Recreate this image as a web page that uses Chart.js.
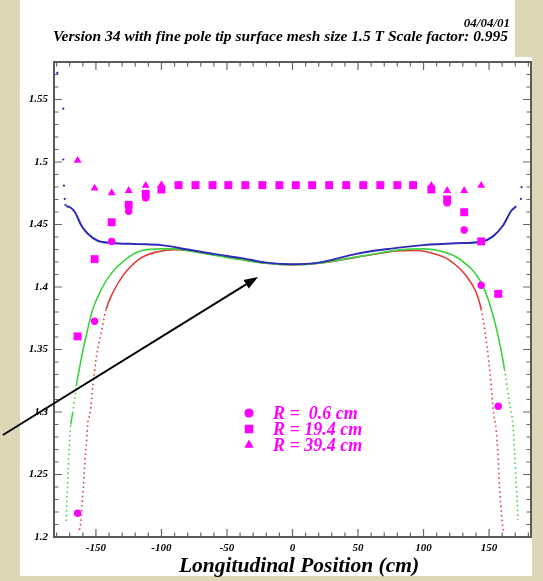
<!DOCTYPE html>
<html>
<head>
<meta charset="utf-8">
<script src="https://cdn.jsdelivr.net/npm/chart.js@4.4.1/dist/chart.umd.min.js"></script>
<style>
  html, body { margin: 0; padding: 0; background: #dcd8b6; }
  #wrap { position: relative; width: 543px; height: 581px; overflow: hidden; }
  #panel { position: absolute; left: 20px; top: 0; width: 512px; height: 576px; background: #fff; }
  #notch { position: absolute; left: 515px; top: 0; width: 28px; height: 57px; background: #dcd8b6; }
  canvas { position: absolute; left: 0; top: 0; }
</style>
</head>
<body>
<div id="wrap">
  <div id="panel"></div>
  <div id="notch"></div>
  <canvas id="chart" width="543" height="581"></canvas>
</div>
<script>
// values (x in cm, y in T)
const xTickValues = [-150, -100, -50, 0, 50, 100, 150];
const xTickLabels = ['-150', '-100', '-50', '0', '50', '100', '150'];
const yTickValues = [1.2, 1.25, 1.3, 1.35, 1.4, 1.45, 1.5, 1.55];
const yTickLabels = ['1.2', '1.25', '1.3', '1.35', '1.4', '1.45', '1.5', '1.55'];

const circlesX = [-164, -151, -138, -125, -112, 118, 131, 144, 157];
const circlesY = [1.219, 1.3726, 1.4365, 1.4606, 1.4713, 1.4673, 1.4456, 1.4014, 1.3046];

const squaresX = [-164, -151, -138, -125, -112, -100, -87, -74, -61, -49, -36, -23, -10, 2.5,
  15, 28, 41, 54, 67, 80, 92, 106, 118, 131, 144, 157];
const squaresY = [1.3605, 1.4223, 1.4518, 1.4657, 1.4745, 1.478, 1.4815, 1.4815, 1.4815, 1.4815,
  1.4815, 1.4815, 1.4815, 1.4815, 1.4815, 1.4815, 1.4815, 1.4815, 1.4815, 1.4815, 1.4815,
  1.478, 1.470, 1.4598, 1.4365, 1.3945];

const trianglesX = [-164, -151, -138, -125, -112, -100, 106, 118, 131, 144];
const trianglesY = [1.5012, 1.479, 1.4753, 1.4771, 1.4812, 1.4817, 1.4812, 1.4771, 1.4771, 1.4812];

const blueX = [-172.7, -170, -166, -161, -156, -148.6, -138, -118, -100, -80, -59.5, -39, -20, 0,
  20, 48.6, 74, 99.5, 125, 144, 153, 160.5, 167, 170.8];
const blueY = [1.4646, 1.464, 1.4598, 1.449, 1.4424, 1.437, 1.4352, 1.4343, 1.4335, 1.430, 1.4263,
  1.4231, 1.4195, 1.4182, 1.4195, 1.4265, 1.4305, 1.4335, 1.435, 1.4362, 1.4405, 1.449, 1.461, 1.4646];

const blueDotsX = [-179.5, -174.9, -174.9, -174.4, -173.8, -173.2, 174.3, 174.8];
const blueDotsY = [1.5713, 1.5427, 1.502, 1.4811, 1.4705, 1.4657, 1.4705, 1.4799];

const greenX = [-172.7, -172.2, -171.6, -171.2, -170.6, -170, -169.2, -167.7, -165, -161.3, -157.5,
  -152.4, -147, -139.7, -127, -115.5, -100, -90, -80, -60, -40, -20, 0, 20, 40, 60, 80, 100, 112,
  127.5, 144, 151.7, 158, 161.8, 165.6, 168.2, 169.5, 170.8, 171.5, 172];
const greenY = [1.2128, 1.2281, 1.2401, 1.2514, 1.2674, 1.2778, 1.2899, 1.2993, 1.3206, 1.342, 1.3608,
  1.3822, 1.3956, 1.4089, 1.4223, 1.429, 1.4305, 1.4305, 1.429, 1.4255, 1.422, 1.419, 1.4178, 1.419,
  1.4225, 1.426, 1.4295, 1.4305, 1.429, 1.4223, 1.4036, 1.3822, 1.3555, 1.334, 1.3073, 1.2899,
  1.2674, 1.2404, 1.2283, 1.2136];

const redX = [-162.6, -161.3, -160.5, -159.5, -158.8, -158, -157, -156.3, -154.4, -152.4, -149.9, -146,
  -142.2, -137, -129.5, -117, -105, -90, -80, -60, -40, -20, 0, 20, 40, 60, 80, 95, 110, 118.5, 132.6,
  140.2, 144, 147, 149.6, 151.7, 153.4, 155.5, 156.7, 158, 159.8, 161];
const redY = [1.2056, 1.2136, 1.2281, 1.2401, 1.2538, 1.2674, 1.2778, 1.2899, 1.2993, 1.3206, 1.342,
  1.3635, 1.3822, 1.3956, 1.4089, 1.4223, 1.4277, 1.4298, 1.4293, 1.4258, 1.4222, 1.419, 1.4178,
  1.419, 1.4222, 1.4258, 1.4288, 1.4292, 1.426, 1.4223, 1.4089, 1.3956, 1.3822, 1.3635, 1.342,
  1.3206, 1.2993, 1.285, 1.2674, 1.2401, 1.2136, 1.205];

const legendLabels = ['R =  0.6 cm', 'R = 19.4 cm', 'R = 39.4 cm'];
const arrowFrom = [-221, 1.2816];
const arrowTo = [-26.3, 1.408];

const MAGENTA = '#ff00ff';
const SERIF = '"Liberation Serif", "Times New Roman", serif';
const pts = (xs, ys) => xs.map((x, i) => ({ x: x, y: ys[i] }));

// dotted where the curve gets steep (the original points spread out there)
const steepDash = (limit) => (ctx) => {
  const dx = Math.abs(ctx.p1.x - ctx.p0.x) || 0.001;
  return Math.abs(ctx.p1.y - ctx.p0.y) / dx > limit ? [1.5, 3.2] : undefined;
};

const decor = {
  id: 'decor',
  afterDatasetsDraw(chart) {
    const { ctx, chartArea: a, scales: { x, y } } = chart;
    ctx.save();
    ctx.strokeStyle = '#666';
    ctx.lineWidth = 1.2;
    ctx.beginPath();
    for (let v = -180; v <= 180; v += 10) {
      const px = x.getPixelForValue(v);
      const len = v % 50 === 0 ? 8 : 4.5;
      ctx.moveTo(px, a.bottom); ctx.lineTo(px, a.bottom - len);
      ctx.moveTo(px, a.top); ctx.lineTo(px, a.top + len);
    }
    for (let i = 0; i <= 38; i++) {
      const py = y.getPixelForValue(1.2 + i * 0.01);
      const len = i % 5 === 0 ? 8 : 4.5;
      ctx.moveTo(a.left, py); ctx.lineTo(a.left + len, py);
      ctx.moveTo(a.right, py); ctx.lineTo(a.right - len, py);
    }
    ctx.stroke();
    ctx.lineWidth = 2;
    ctx.strokeStyle = '#5a5a5a';
    ctx.strokeRect(a.left, a.top, a.right - a.left, a.bottom - a.top);

    // legend block inside the plot
    const styles = ['circle', 'rect', 'triangle'];
    const radii = [4.6, 6, 5.4];
    ctx.fillStyle = MAGENTA;
    ctx.font = 'italic bold 18px ' + SERIF;
    ctx.textBaseline = 'alphabetic';
    ctx.textAlign = 'left';
    legendLabels.forEach((label, i) => {
      const cy = 413 + i * 16;
      Chart.helpers.drawPoint(ctx, { pointStyle: styles[i], radius: radii[i], rotation: 0, borderWidth: 0 }, 249, cy);
      ctx.fillStyle = MAGENTA;
      ctx.fillText(label, 273, cy + 6);
    });
    ctx.restore();
  },
  afterDraw(chart) {
    const { ctx, scales: { x, y } } = chart;
    ctx.save();
    // header lines and axis title
    ctx.fillStyle = '#000';
    ctx.textAlign = 'right';
    ctx.font = 'italic bold 13px ' + SERIF;
    ctx.fillText('04/04/01', 510, 27);
    ctx.font = 'italic bold 15.5px ' + SERIF;
    ctx.fillText('Version 34 with fine pole tip surface mesh size 1.5 T Scale factor: 0.995', 508, 41);
    ctx.textAlign = 'center';
    ctx.font = 'italic bold 21.5px ' + SERIF;
    ctx.fillText('Longitudinal Position (cm)', 299, 572);

    // arrow pointing at the blue curve
    const x0 = x.getPixelForValue(arrowFrom[0]), y0 = y.getPixelForValue(arrowFrom[1]);
    const x1 = x.getPixelForValue(arrowTo[0]), y1 = y.getPixelForValue(arrowTo[1]);
    const ang = Math.atan2(y1 - y0, x1 - x0);
    const head = 14, half = 5;
    ctx.strokeStyle = '#000';
    ctx.lineWidth = 2;
    ctx.beginPath();
    ctx.moveTo(x0, y0);
    ctx.lineTo(x1 - head * Math.cos(ang), y1 - head * Math.sin(ang));
    ctx.stroke();
    ctx.beginPath();
    ctx.moveTo(x1, y1);
    ctx.lineTo(x1 - head * Math.cos(ang) + half * Math.sin(ang), y1 - head * Math.sin(ang) - half * Math.cos(ang));
    ctx.lineTo(x1 - head * Math.cos(ang) - half * Math.sin(ang), y1 - head * Math.sin(ang) + half * Math.cos(ang));
    ctx.closePath();
    ctx.fill();
    ctx.restore();
  }
};

const tickFont = { family: SERIF, size: 11, style: 'italic', weight: 'bold' };

new Chart(document.getElementById('chart'), {
  type: 'scatter',
  data: {
    datasets: [
      { label: 'R = 0.6 cm', data: pts(circlesX, circlesY), pointStyle: 'circle', pointRadius: 3.7,
        backgroundColor: MAGENTA, borderWidth: 0 },
      { label: 'R = 19.4 cm', data: pts(squaresX, squaresY), pointStyle: 'rect', pointRadius: 5.6,
        backgroundColor: MAGENTA, borderWidth: 0 },
      { label: 'R = 39.4 cm', data: pts(trianglesX, trianglesY), pointStyle: 'triangle', pointRadius: 4.6,
        backgroundColor: MAGENTA, borderWidth: 0 },
      { label: 'blue ends', data: pts(blueDotsX, blueDotsY), pointRadius: 1.1,
        backgroundColor: '#2b2bb5', borderWidth: 0 },
      { label: 'blue', data: pts(blueX, blueY), showLine: true, pointRadius: 0,
        borderColor: '#2b2bb5', borderWidth: 2, cubicInterpolationMode: 'monotone' },
      { label: 'green', data: pts(greenX, greenY), showLine: true, pointRadius: 0,
        borderColor: '#3fd23f', borderWidth: 1.6, cubicInterpolationMode: 'monotone',
        segment: { borderDash: steepDash(6) } },
      { label: 'red', data: pts(redX, redY), showLine: true, pointRadius: 0,
        borderColor: '#e03a3a', borderWidth: 1.6, cubicInterpolationMode: 'monotone',
        segment: { borderDash: steepDash(3.5) } }
    ]
  },
  options: {
    responsive: false,
    animation: false,
    layout: { padding: { top: 62, right: 12, left: 0, bottom: 0 } },
    plugins: { legend: { display: false }, tooltip: { enabled: false } },
    scales: {
      x: {
        type: 'linear', min: -182, max: 182,
        grid: { display: false, drawTicks: false },
        border: { display: false },
        afterBuildTicks: (s) => { s.ticks = xTickValues.map(v => ({ value: v })); },
        afterFit: (s) => { s.height = 44; },
        ticks: { font: tickFont, color: '#000', padding: 5, maxRotation: 0, autoSkip: false,
          callback: (v, i) => xTickLabels[i] }
      },
      y: {
        type: 'linear', min: 1.2, max: 1.58,
        grid: { display: false, drawTicks: false },
        border: { display: false },
        afterBuildTicks: (s) => { s.ticks = yTickValues.map(v => ({ value: v })); },
        afterFit: (s) => { s.width = 54; },
        ticks: { font: tickFont, color: '#000', padding: 6, autoSkip: false,
          callback: (v, i) => yTickLabels[i] }
      }
    }
  },
  plugins: [decor]
});
</script>
</body>
</html>
